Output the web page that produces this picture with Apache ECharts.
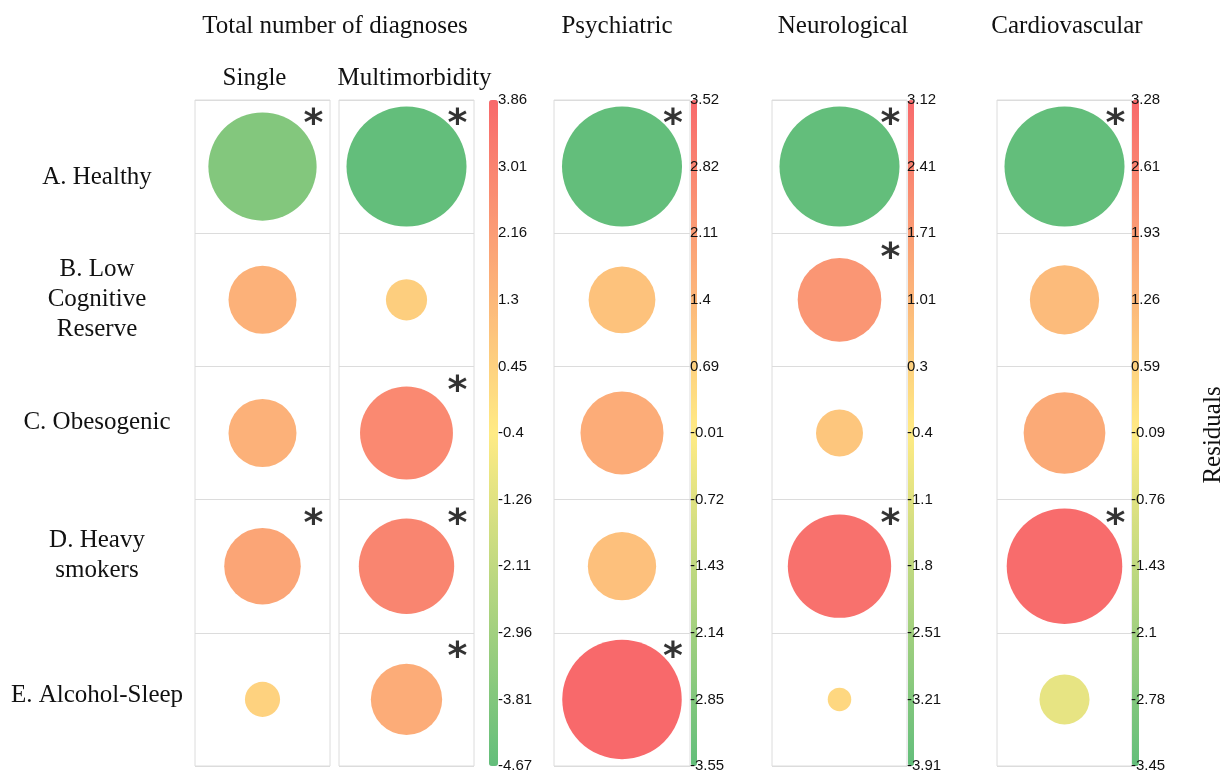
<!DOCTYPE html>
<html>
<head>
<meta charset="utf-8">
<script src="https://cdn.jsdelivr.net/npm/echarts@6/dist/echarts.min.js"></script>
<style>
  html, body { margin: 0; padding: 0; background: #fff; }
  #chart-container { width: 1230px; height: 774px; }
</style>
</head>
<body>
<div id="chart-container"></div>
<script>
// filas (perfiles) y columnas
const rows = ['A. Healthy', 'B. Low\nCognitive\nReserve', 'C. Obesogenic', 'D. Heavy\nsmokers', 'E. Alcohol-Sleep'];
const columns = ['Single', 'Multimorbidity', 'Psychiatric', 'Neurological', 'Cardiovascular'];

// residuos por columna (A..E)
const single = [-3.8, 1.5, 1.5, 1.9, 0.4];
const multimorbidity = [-4.67, 0.55, 2.8, 2.95, 1.65];
const psychiatric = [-3.55, 1.1, 1.7, 1.15, 3.52];
const neurological = [-3.91, 1.9, 0.6, 2.9, 0.15];
const cardiovascular = [-3.45, 1.15, 1.6, 3.2, -0.6];

// significativo (*) por columna
const sigSingle = [1, 0, 0, 1, 0];
const sigMultimorbidity = [1, 0, 1, 1, 1];
const sigPsychiatric = [1, 0, 0, 0, 1];
const sigNeurological = [1, 1, 0, 1, 0];
const sigCardiovascular = [1, 0, 0, 1, 0];

// etiquetas de las barras de color (de arriba a abajo)
const ticksTotal = ['3.86', '3.01', '2.16', '1.3', '0.45', '-0.4', '-1.26', '-2.11', '-2.96', '-3.81', '-4.67'];
const ticksPsychiatric = ['3.52', '2.82', '2.11', '1.4', '0.69', '-0.01', '-0.72', '-1.43', '-2.14', '-2.85', '-3.55'];
const ticksNeurological = ['3.12', '2.41', '1.71', '1.01', '0.3', '-0.4', '-1.1', '-1.8', '-2.51', '-3.21', '-3.91'];
const ticksCardiovascular = ['3.28', '2.61', '1.93', '1.26', '0.59', '-0.09', '-0.76', '-1.43', '-2.1', '-2.78', '-3.45'];

const myChart = echarts.init(document.getElementById('chart-container'), null, { renderer: 'canvas' });

const SERIF = '"Liberation Serif", "Times New Roman", serif';
const SANS = '"Liberation Sans", Arial, sans-serif';
const COLORS = ['#63BE7B', '#FFEB84', '#F8696B'];
const TOP = 100, HEIGHT = 666, MAXD = 120;

// ajuste vertical de cada etiqueta de fila (px, + hacia abajo)
const desplazFila = [11, 0, -11, -11, -4];
// ajuste horizontal de los subtitulos de columna (px, + hacia la derecha)
const desplazCol = [-8, 8];

// columnas: valores, significancia, ticks del panel, posicion de la celda
const cols = [
  { vals: single, sig: sigSingle, ticks: ticksTotal, left: 195, width: 135 },
  { vals: multimorbidity, sig: sigMultimorbidity, ticks: ticksTotal, left: 339, width: 135 },
  { vals: psychiatric, sig: sigPsychiatric, ticks: ticksPsychiatric, left: 554, width: 136 },
  { vals: neurological, sig: sigNeurological, ticks: ticksNeurological, left: 772, width: 135 },
  { vals: cardiovascular, sig: sigCardiovascular, ticks: ticksCardiovascular, left: 997, width: 135 }
];

// barras de color: columnas que colorea, posicion de la barra y de las etiquetas
const bars = [
  { ticks: ticksTotal, cols: [0, 1], barLeft: 489, barWidth: 9, labelLeft: 498 },
  { ticks: ticksPsychiatric, cols: [2], barLeft: 691, barWidth: 6, labelLeft: 690 },
  { ticks: ticksNeurological, cols: [3], barLeft: 908, barWidth: 6, labelLeft: 907 },
  { ticks: ticksCardiovascular, cols: [4], barLeft: 1132, barWidth: 7, labelLeft: 1131 }
];

function rango(ticks) {
  return [Number(ticks[ticks.length - 1]), Number(ticks[0])];
}

function padH(d) {
  return d >= 0 ? [0, 0, 0, 2 * d] : [0, -2 * d, 0, 0];
}

// estilos rich para mover cada etiqueta de fila
const filaBase = { fontFamily: SERIF, fontSize: 25, lineHeight: 30, color: '#111', align: 'center' };
const filaRich = { m: filaBase };
desplazFila.forEach((d, i) => {
  const arriba = Math.max(0, 2 * d), abajo = Math.max(0, -2 * d);
  filaRich['s' + i] = Object.assign({}, filaBase, { padding: [arriba, 0, abajo, 0] });
  filaRich['f' + i] = Object.assign({}, filaBase, { padding: [arriba, 0, 0, 0] });
  // linea final: espacio extra debajo a traves de una linea vacia proporcional
  filaRich['l' + i] = filaBase;
  filaRich['e' + i] = Object.assign({}, filaBase, { lineHeight: abajo, fontSize: 1 });
});
function formatoFila(value, index) {
  const lineas = value.split('\n');
  const txt = lineas.map((ln, j) => {
    const tag = lineas.length === 1 ? 's' : (j === 0 ? 'f' : (j === lineas.length - 1 ? 'l' : 'm'));
    return '{' + tag + (tag === 'm' ? '' : index) + '|' + ln + '}';
  }).join('\n');
  return (lineas.length > 1 && desplazFila[index] < 0) ? txt + '\n{e' + index + '| }' : txt;
}

const grids = [], xAxes = [], yAxes = [], series = [], visualMaps = [];

cols.forEach((c, k) => {
  const r = rango(c.ticks);
  const maxAbs = Math.max(Math.abs(r[0]), Math.abs(r[1]));
  grids.push({
    left: c.left, top: TOP, width: c.width, height: HEIGHT, show: true,
    borderColor: '#dcdcdc', borderWidth: 1, containLabel: false, outerBoundsMode: 'none'
  });
  xAxes.push({
    gridIndex: k, type: 'category', position: 'top',
    data: [{ value: columns[k], textStyle: { padding: padH(desplazCol[k] || 0), align: 'center', verticalAlign: 'bottom' } }],
    axisLine: { show: false }, axisTick: { show: false }, splitLine: { show: false },
    axisLabel: { show: k < 2, margin: 9, fontFamily: SERIF, fontSize: 25, color: '#111' }
  });
  yAxes.push({
    gridIndex: k, type: 'category', inverse: true, data: rows,
    axisLine: { show: false }, axisTick: { show: false },
    splitLine: { show: true, lineStyle: { color: '#dcdcdc', width: 1 } },
    axisLabel: {
      show: k === 0, margin: 98, align: 'center', verticalAlign: 'middle',
      fontFamily: SERIF, fontSize: 25, lineHeight: 30, color: '#111',
      formatter: formatoFila, rich: filaRich
    }
  });
  series.push({
    type: 'scatter', xAxisIndex: k, yAxisIndex: k,
    data: c.vals.map((v, i) => [0, i, v]),
    symbolSize: (val) => MAXD * Math.sqrt(Math.abs(val[2]) / maxAbs),
    itemStyle: { opacity: 1 },
    silent: true
  });
});

// asteriscos
cols.forEach((c, k) => {
  series.push({
    type: 'scatter', xAxisIndex: k, yAxisIndex: k,
    data: c.vals.map((v, i) => [0, i, v]).filter((d, i) => c.sig[i] === 1),
    symbol: 'circle', symbolSize: 1,
    itemStyle: { color: 'rgba(0,0,0,0)' },
    label: {
      show: true, formatter: '*', position: 'inside', offset: [51, -41],
      fontFamily: '"DejaVu Sans", sans-serif', fontWeight: 'bold', fontSize: 38, color: '#000'
    },
    z: 5,
    silent: true
  });
});

bars.forEach((b, j) => {
  const r = rango(b.ticks);
  visualMaps.push({
    type: 'continuous', min: r[0], max: r[1], dimension: 2, seriesIndex: b.cols,
    inRange: { color: COLORS }, orient: 'vertical', left: b.barLeft, top: TOP,
    itemWidth: b.barWidth, itemHeight: HEIGHT, calculable: false, padding: 0,
    hoverLink: false, showLabel: false
  });
  const g = cols.length + j;
  grids.push({ left: b.labelLeft, top: TOP, width: 1, height: HEIGHT, containLabel: false, outerBoundsMode: 'none' });
  xAxes.push({ gridIndex: g, type: 'value', show: false });
  yAxes.push({
    gridIndex: g, type: 'category', data: b.ticks, inverse: true, boundaryGap: false, z: 10,
    axisLine: { show: false }, axisTick: { show: false }, splitLine: { show: false },
    axisLabel: { inside: true, margin: 0, interval: 0, fontFamily: SANS, fontSize: 15, color: '#111' }
  });
});

const tituloEstilo = { fontFamily: SERIF, fontSize: 25, fill: '#111', align: 'center', verticalAlign: 'middle' };

const opciones = {
  backgroundColor: '#fff',
  animation: false,
  grid: grids,
  xAxis: xAxes,
  yAxis: yAxes,
  visualMap: visualMaps,
  series: series,
  graphic: [
    { type: 'text', x: 335, y: 26, style: Object.assign({ text: 'Total number of diagnoses' }, tituloEstilo) },
    { type: 'text', x: 617, y: 26, style: Object.assign({ text: 'Psychiatric' }, tituloEstilo) },
    { type: 'text', x: 843, y: 26, style: Object.assign({ text: 'Neurological' }, tituloEstilo) },
    { type: 'text', x: 1067, y: 26, style: Object.assign({ text: 'Cardiovascular' }, tituloEstilo) },
    { type: 'text', x: 1213, y: 435, rotation: Math.PI / 2, style: Object.assign({ text: 'Residuals' }, tituloEstilo) }
  ]
};

myChart.setOption(opciones);
window.addEventListener('resize', myChart.resize);
</script>
</body>
</html>
